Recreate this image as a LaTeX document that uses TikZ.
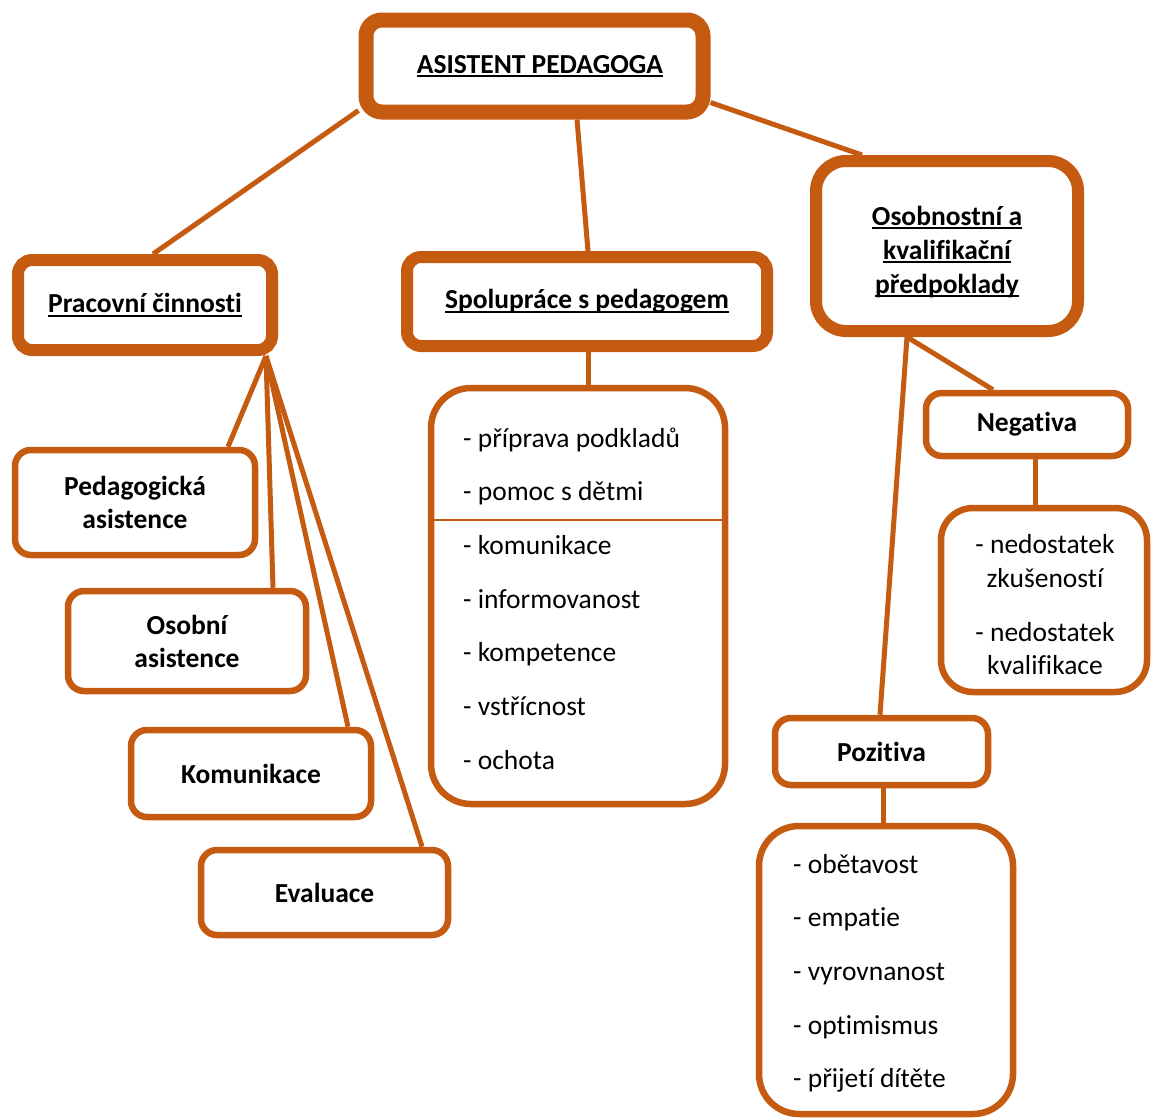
\documentclass[tikz,border=0pt]{standalone}
\usepackage{fontspec}
\setmainfont{Carlito}[Ligatures=NoCommon]
\usepackage{xcolor}
\definecolor{rust}{RGB}{197,90,17}
\newcommand{\ulbf}[1]{\sbox0{#1}\rlap{\rule[-3.8pt]{\wd0}{2pt}}\usebox0}

\begin{document}
\begin{tikzpicture}[%
      x=1pt, y=-1pt,
      mainbox/.style={draw=rust, fill=white, line width=12pt, rounded corners=14pt,
        inner sep=0pt, align=center, font=\fontsize{27.5}{34}\selectfont\bfseries},
      subbox/.style={draw=rust, fill=white, line width=6.5pt, rounded corners=16pt,
        inner sep=0pt, align=center, font=\fontsize{27.5}{33}\selectfont\bfseries},
      listbox/.style={draw=rust, fill=white, line width=6.5pt, rounded corners=40pt,
        inner sep=0pt},
      item/.style={anchor=base west, inner sep=0pt, font=\fontsize{27.5}{30}\selectfont},
      citem/.style={anchor=base, inner sep=0pt, font=\fontsize{27.5}{30}\selectfont},
      link/.style={draw=rust, line width=5pt},
      ]
      \useasboundingbox (0,0) rectangle (1151,1119);

      % top level
      \node[mainbox, line width=15pt, rounded corners=16pt, minimum width=337pt, minimum height=92pt]
        (ap) at (534.5,66) {\hspace*{11pt}\ulbf{ASISTENT PEDAGOGA}};
      \node[mainbox, minimum width=254pt, minimum height=90pt]
        (prac) at (145,305) {\ulbf{Pracovní činnosti}};
      \node[mainbox, minimum width=360pt, minimum height=89pt]
        (spol) at (587,301.5) {\ulbf{Spolupráce s pedagogem}};
      \node[mainbox, rounded corners=30pt, minimum width=262pt, minimum height=170pt]
        (osob) at (947,246) {\rule{0pt}{31pt}\ulbf{Osobnostní a}\\ \ulbf{kvalifikační}\\ \ulbf{předpoklady}};

      % pracovni cinnosti
      \node[subbox, minimum width=240pt, minimum height=105pt]
        (ped) at (135,502.5) {Pedagogická\\ asistence};
      \node[subbox, minimum width=238pt, minimum height=100pt]
        (osa) at (187,641) {Osobní\\ asistence};
      \node[subbox, minimum width=240pt, minimum height=87pt]
        (kom) at (251,773.5) {Komunikace};
      \node[subbox, minimum width=247pt, minimum height=85pt]
        (eval) at (324.5,892.5) {Evaluace};

      % spoluprace s pedagogem
      \node[listbox, minimum width=294pt, minimum height=416pt] (spollist) at (578,596) {};
      \coordinate (div) at (578,520);
      \draw[rust, line width=1.8pt] (spollist.west |- div) -- (spollist.east |- div);
      \node[item] (s1) at (463,447) {- příprava podkladů};
      \node[item] (s2) at (463,500.7) {- pomoc s dětmi};
      \node[item] (s3) at (463,554.4) {- komunikace};
      \node[item] (s4) at (463,608) {- informovanost};
      \node[item] (s5) at (463,661.8) {- kompetence};
      \node[item] (s6) at (463,715.5) {- vstřícnost};
      \node[item] (s7) at (463,769) {- ochota};

      % negativa
      \node[subbox, minimum width=202pt, minimum height=63pt]
        (neg) at (1027,424.5) {Negativa};
      \node[listbox, rounded corners=32pt, minimum width=206pt, minimum height=184pt]
        (neglist) at (1044,600) {};
      \node[citem] (n1) at (1045,553) {- nedostatek};
      \node[citem] (n2) at (1045,587) {zkušeností};
      \node[citem] (n3) at (1045,641) {- nedostatek};
      \node[citem] (n4) at (1045,674) {kvalifikace};

      % pozitiva
      \node[subbox, minimum width=213pt, minimum height=67pt]
        (poz) at (881.5,751.5) {Pozitiva};
      \node[listbox, minimum width=254pt, minimum height=288pt]
        (pozlist) at (886,970) {};
      \node[item] (p1) at (793,873) {- obětavost};
      \node[item] (p2) at (793,926.7) {- empatie};
      \node[item] (p3) at (793,980.4) {- vyrovnanost};
      \node[item] (p4) at (793,1034) {- optimismus};
      \node[item] (p5) at (793,1087.8) {- přijetí dítěte};

      % connectors
      \draw[link] ([yshift=9pt]ap.south west) -- ([xshift=8pt]prac.north);
      \draw[link] ([xshift=42.5pt]ap.south) -- ([xshift=1pt]spol.north);
      \draw[link] ([yshift=17pt]ap.south east) -- ([xshift=-85pt]osob.north);

      \draw[link] ([xshift=-12pt]prac.south east) -- ([xshift=93pt]ped.north);
      \draw[link] ([xshift=-12pt]prac.south east) -- ([xshift=86pt]osa.north);
      \draw[link] ([xshift=-12pt]prac.south east) -- ([xshift=97pt]kom.north);
      \draw[link] ([xshift=-12pt]prac.south east) -- ([xshift=97.5pt]eval.north);

      \draw[link] ([xshift=1pt]spol.south) -- ([xshift=10pt]spollist.north);

      \draw[link] ([xshift=-40pt]osob.south) -- ([xshift=-34pt]neg.north);
      \draw[link] ([xshift=-40pt]osob.south) -- ([xshift=-1.5pt]poz.north);
      \draw[link] ([xshift=8pt]neg.south) -- ([xshift=-9pt]neglist.north);
      \draw[link] ([xshift=1.5pt]poz.south) -- ([xshift=-3pt]pozlist.north);
\end{tikzpicture}
\end{document}
